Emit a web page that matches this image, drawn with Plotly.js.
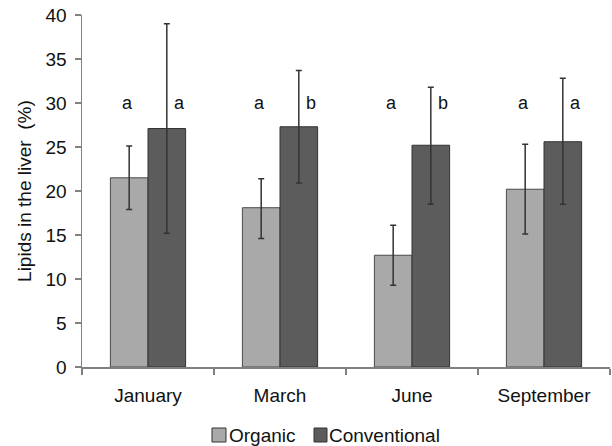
<!DOCTYPE html>
<html>
<head>
<meta charset="utf-8">
<script src="https://cdn.plot.ly/plotly-3.0.1.min.js"></script>
<style>html,body{margin:0;padding:0;background:#fff;}#chart{width:612px;height:446px;}</style>
</head>
<body>
<div id="chart"></div>
<script>
var months = ["January", "March", "June", "September"];
var seriesNames = ["Organic", "Conventional"];
var organic = [21.5, 18.1, 12.7, 20.2];
var organicHigh = [25.1, 21.4, 16.1, 25.3];
var organicLow = [17.9, 14.6, 9.3, 15.1];
var conventional = [27.1, 27.3, 25.2, 25.6];
var conventionalHigh = [39.0, 33.7, 31.8, 32.8];
var conventionalLow = [15.2, 20.9, 18.5, 18.5];
var organicLetters = ["a", "a", "a", "a"];
var conventionalLetters = ["a", "b", "b", "a"];
var letterLevel = 30;

function diff(a, b) { return a.map(function (v, i) { return +(v - b[i]).toFixed(2); }); }

var colors = ["#a9a9a9", "#5c5c5c"];
var edges = ["#4a4a4a", "#333333"];
var errStyle = {color: "#333333", thickness: 1.5, width: 3};

var traces = [
  {
    type: "bar", name: seriesNames[0], x: months, y: organic,
    marker: {color: colors[0], line: {color: edges[0], width: 1}},
    error_y: Object.assign({type: "data", symmetric: false, array: diff(organicHigh, organic), arrayminus: diff(organic, organicLow)}, errStyle)
  },
  {
    type: "bar", name: seriesNames[1], x: months, y: conventional,
    marker: {color: colors[1], line: {color: edges[1], width: 1}},
    error_y: Object.assign({type: "data", symmetric: false, array: diff(conventionalHigh, conventional), arrayminus: diff(conventional, conventionalLow)}, errStyle)
  }
];

var annotations = [];
months.forEach(function (m, i) {
  annotations.push({x: m, y: letterLevel, text: organicLetters[i], showarrow: false, xshift: -21, font: {size: 18, color: "#111"}});
  annotations.push({x: m, y: letterLevel, text: conventionalLetters[i], showarrow: false, xshift: 31, font: {size: 18, color: "#111"}});
});
annotations.push({
  xref: "paper", yref: "paper", x: -0.11, y: 0.5, xanchor: "center", yanchor: "middle",
  text: "Lipids in the liver  (%)", textangle: -90, showarrow: false, font: {size: 19, color: "#111"}
});

// custom legend (swatch + label), placed below the plot
var legendSwatchX = [[0.2462, 0.2727], [0.4394, 0.4640]];
var legendTextX = [0.2746, 0.4640];
var shapes = [];
seriesNames.forEach(function (n, i) {
  shapes.push({type: "rect", xref: "paper", yref: "paper",
    x0: legendSwatchX[i][0], x1: legendSwatchX[i][1], y0: -0.2131, y1: -0.1733,
    fillcolor: colors[i], line: {color: "#333333", width: 1}});
  annotations.push({xref: "paper", yref: "paper", x: legendTextX[i], y: -0.1932, xanchor: "left", yanchor: "middle",
    text: n, showarrow: false, font: {size: 19, color: "#111"}});
});

var layout = {
  width: 612, height: 446,
  margin: {l: 82, r: 2, t: 15, b: 79},
  paper_bgcolor: "#ffffff", plot_bgcolor: "#ffffff",
  font: {family: "Liberation Sans, Arial, sans-serif", size: 19, color: "#111"},
  barmode: "group", bargap: 0.43, bargroupgap: 0,
  showlegend: false,
  xaxis: {
    type: "category", showline: true, linecolor: "#808080", linewidth: 1.5,
    ticks: "outside", tickson: "boundaries", ticklen: 6, tickcolor: "#808080", tickwidth: 1.5,
    tickfont: {size: 19}, ticklabelstandoff: 11
  },
  yaxis: {
    range: [0, 40], dtick: 5, showgrid: false, zeroline: false,
    showline: true, linecolor: "#808080", linewidth: 1.5,
    ticks: "outside", ticklen: 6, tickcolor: "#808080", tickwidth: 1.5,
    tickfont: {size: 19}, ticklabelstandoff: 4
  },
  shapes: shapes,
  annotations: annotations
};

Plotly.newPlot("chart", traces, layout, {displayModeBar: false, staticPlot: true});
</script>
</body>
</html>
